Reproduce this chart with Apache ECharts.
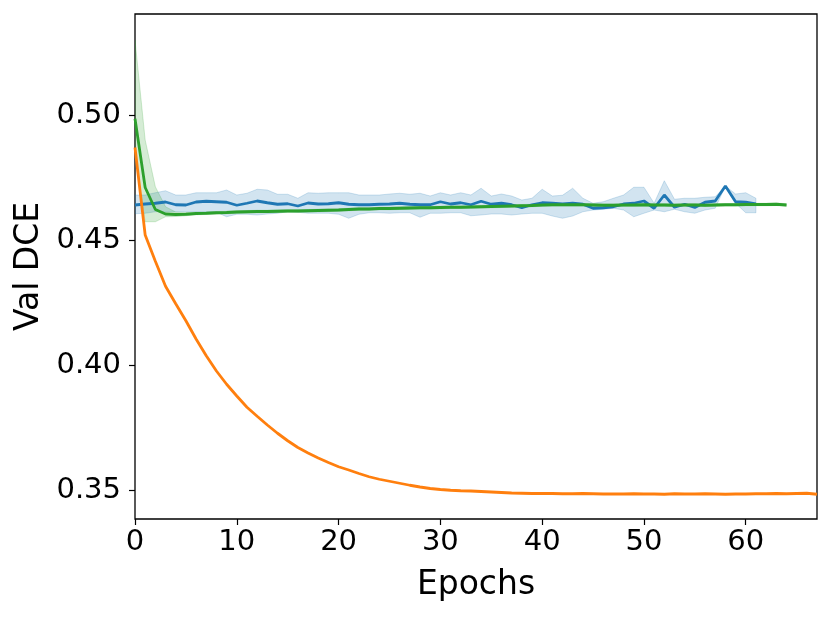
<!DOCTYPE html>
<html>
<head>
<meta charset="utf-8">
<script src="https://cdn.jsdelivr.net/npm/echarts@6/dist/echarts.min.js"></script>
<style>
html,body{margin:0;padding:0;background:#fff;}
#chart{width:830px;height:618px;}
</style>
</head>
<body>
<div id="chart"></div>
<script>
// ---- data ----
const yTicks = [0.35, 0.40, 0.45, 0.50];

const blueMean = [0.4640, 0.4644, 0.4647, 0.4652, 0.4641, 0.4640, 0.4652, 0.4655, 0.4653, 0.4651,
 0.4639, 0.4647, 0.4656, 0.4649, 0.4643, 0.4645, 0.4636, 0.4648, 0.4644, 0.4645,
 0.4649, 0.4643, 0.4641, 0.4641, 0.4643, 0.4644, 0.4647, 0.4643, 0.4641, 0.4641,
 0.4653, 0.4644, 0.4649, 0.4641, 0.4655, 0.4643, 0.4647, 0.4641, 0.4629, 0.4641,
 0.4649, 0.4647, 0.4644, 0.4647, 0.4643, 0.4627, 0.4629, 0.4633, 0.4644, 0.4647,
 0.4656, 0.4627, 0.4680, 0.4631, 0.4643, 0.4630, 0.4651, 0.4656, 0.4716, 0.4653,
 0.4651, 0.4644];
const blueUpper = [0.4680, 0.4680, 0.4689, 0.4697, 0.4680, 0.4680, 0.4689, 0.4689, 0.4689, 0.4700,
 0.4680, 0.4687, 0.4703, 0.4700, 0.4683, 0.4683, 0.4667, 0.4689, 0.4687, 0.4689,
 0.4689, 0.4689, 0.4680, 0.4680, 0.4680, 0.4684, 0.4687, 0.4683, 0.4687, 0.4676,
 0.4689, 0.4680, 0.4689, 0.4680, 0.4707, 0.4676, 0.4684, 0.4676, 0.4660, 0.4667,
 0.4703, 0.4676, 0.4679, 0.4707, 0.4667, 0.4647, 0.4653, 0.4667, 0.4680, 0.4711,
 0.4711, 0.4647, 0.4737, 0.4663, 0.4667, 0.4667, 0.4671, 0.4673, 0.4716, 0.4684,
 0.4689, 0.4667];
const blueLower = [0.4605, 0.4607, 0.4613, 0.4613, 0.4613, 0.4613, 0.4613, 0.4613, 0.4611, 0.4593,
 0.4603, 0.4603, 0.4600, 0.4604, 0.4607, 0.4613, 0.4611, 0.4607, 0.4607, 0.4607,
 0.4603, 0.4587, 0.4603, 0.4609, 0.4609, 0.4607, 0.4609, 0.4609, 0.4591, 0.4607,
 0.4607, 0.4609, 0.4609, 0.4597, 0.4600, 0.4604, 0.4604, 0.4600, 0.4604, 0.4607,
 0.4607, 0.4596, 0.4587, 0.4596, 0.4613, 0.4620, 0.4623, 0.4627, 0.4620, 0.4593,
 0.4607, 0.4620, 0.4613, 0.4623, 0.4613, 0.4607, 0.4620, 0.4627, 0.4716, 0.4647,
 0.4609, 0.4609];

const orangeMean = [0.4870, 0.4520, 0.4415, 0.4315, 0.4245, 0.4177, 0.4104, 0.4037, 0.3976, 0.3923,
 0.3876, 0.3831, 0.3795, 0.3760, 0.3727, 0.3697, 0.3670, 0.3648, 0.3628, 0.3610,
 0.3593, 0.3580, 0.3566, 0.3553, 0.3543, 0.3535, 0.3527, 0.3519, 0.3512, 0.3506,
 0.3502, 0.3499, 0.3497, 0.3496, 0.3494, 0.3492, 0.3490, 0.3488, 0.3487, 0.3486,
 0.3486, 0.3486, 0.3485, 0.3485, 0.3486, 0.3485, 0.3484, 0.3484, 0.3484, 0.3485,
 0.3484, 0.3484, 0.3483, 0.3485, 0.3484, 0.3484, 0.3485, 0.3484, 0.3483, 0.3484,
 0.3484, 0.3485, 0.3485, 0.3486, 0.3485, 0.3486, 0.3487, 0.3483];

const greenMean = [0.4985, 0.4710, 0.4622, 0.4604, 0.4602, 0.4603, 0.4606, 0.4607, 0.4609, 0.4610,
 0.4612, 0.4613, 0.4614, 0.4614, 0.4615, 0.4616, 0.4616, 0.4617, 0.4618, 0.4619,
 0.4620, 0.4622, 0.4624, 0.4624, 0.4626, 0.4626, 0.4627, 0.4628, 0.4629, 0.4629,
 0.4630, 0.4631, 0.4631, 0.4632, 0.4633, 0.4634, 0.4635, 0.4636, 0.4637, 0.4638,
 0.4640, 0.4641, 0.4641, 0.4641, 0.4641, 0.4640, 0.4639, 0.4639, 0.4640, 0.4640,
 0.4641, 0.4640, 0.4640, 0.4639, 0.4640, 0.4640, 0.4639, 0.4640, 0.4641, 0.4641,
 0.4642, 0.4642, 0.4642, 0.4643, 0.4640];
const greenUpper = [0.5300, 0.4900, 0.4713, 0.4633, 0.4612, 0.4610, 0.4611, 0.4612, 0.4614, 0.4615,
 0.4617, 0.4618, 0.4619, 0.4619, 0.4620, 0.4621, 0.4621, 0.4622, 0.4623, 0.4624,
 0.4625, 0.4627, 0.4629, 0.4629, 0.4631, 0.4631, 0.4632, 0.4633, 0.4634, 0.4634,
 0.4635, 0.4636, 0.4636, 0.4637, 0.4638, 0.4639, 0.4640, 0.4641, 0.4642, 0.4643,
 0.4645, 0.4646, 0.4646, 0.4646, 0.4646, 0.4645, 0.4644, 0.4644, 0.4645, 0.4645,
 0.4646, 0.4645, 0.4645, 0.4644, 0.4645, 0.4645, 0.4644, 0.4645, 0.4646, 0.4646,
 0.4647, 0.4647, 0.4647, 0.4648, 0.4645];
const greenLower = [0.4833, 0.4573, 0.4573, 0.4593, 0.4594, 0.4597, 0.4601, 0.4602, 0.4604, 0.4605,
 0.4607, 0.4608, 0.4609, 0.4609, 0.4610, 0.4611, 0.4611, 0.4612, 0.4613, 0.4614,
 0.4615, 0.4617, 0.4619, 0.4619, 0.4621, 0.4621, 0.4622, 0.4623, 0.4624, 0.4624,
 0.4625, 0.4626, 0.4626, 0.4627, 0.4628, 0.4629, 0.4630, 0.4631, 0.4632, 0.4633,
 0.4635, 0.4636, 0.4636, 0.4636, 0.4636, 0.4635, 0.4634, 0.4634, 0.4635, 0.4635,
 0.4636, 0.4635, 0.4635, 0.4634, 0.4635, 0.4635, 0.4634, 0.4635, 0.4636, 0.4636,
 0.4637, 0.4637, 0.4637, 0.4638, 0.4635];

// ---- build series ----
const FONT = 'DejaVu Sans';
const pairs = arr => arr.map((v, i) => [i, v]);

// confidence band: one polygon built through the axis scales (api.coord)
function band(name, up, lo, rgb) {
  const data = up.map((v, i) => [i, lo[i], v]);
  return {
    name: name, type: 'custom', data: data, silent: true, z: 1, clip: true,
    encode: { x: 0, y: [1, 2] },
    renderItem: function (params, api) {
      if (params.dataIndex !== 0) return null;
      const pts = [];
      for (let i = 0; i < data.length; i++) pts.push(api.coord([data[i][0], data[i][2]]));
      for (let i = data.length - 1; i >= 0; i--) pts.push(api.coord([data[i][0], data[i][1]]));
      return {
        type: 'polygon',
        shape: { points: pts },
        style: { fill: 'rgba(' + rgb + ',0.2)', stroke: 'rgba(' + rgb + ',0.2)', lineWidth: 1 },
        clipPath: { type: 'rect', shape: { x: params.coordSys.x, y: params.coordSys.y, width: params.coordSys.width, height: params.coordSys.height } }
      };
    }
  };
}
function line(name, arr, color, z) {
  return { name: name, type: 'line', data: pairs(arr), symbol: 'none', clip: true,
    lineStyle: { width: 2.8, color: color }, z: z };
}

const series = [
  band('blueBand', blueUpper, blueLower, '31,119,180'),
  line('blue', blueMean, '#1f77b4', 3),
  line('orange', orangeMean, '#ff7f0e', 3),
  band('greenBand', greenUpper, greenLower, '44,160,44'),
  line('green', greenMean, '#2ca02c', 4)
];

const chart = echarts.init(document.getElementById('chart'), null, { renderer: 'canvas' });
chart.setOption({
  animation: false,
  backgroundColor: '#fff',
  grid: { left: 135, right: 13, top: 14, bottom: 99, show: true, borderColor: '#000', borderWidth: 1.3, containLabel: false },
  xAxis: {
    type: 'value', min: 0, max: 67, interval: 10,
    name: 'Epochs', nameLocation: 'middle', nameGap: 50,
    nameTextStyle: { fontFamily: FONT, fontSize: 33, color: '#000' },
    axisLine: { show: false },
    axisTick: { show: true, inside: false, length: 6, lineStyle: { color: '#000', width: 1.2 } },
    axisLabel: { fontFamily: FONT, fontSize: 29, color: '#000', margin: 9, showMaxLabel: false },
    splitLine: { show: false }
  },
  yAxis: {
    type: 'value', min: 0.3384, max: 0.5404,
    name: 'Val DCE', nameLocation: 'middle', nameGap: 88,
    nameTextStyle: { fontFamily: FONT, fontSize: 33, color: '#000' },
    axisLine: { show: false },
    axisTick: { show: true, inside: false, length: 6, customValues: yTicks, lineStyle: { color: '#000', width: 1.2 } },
    axisLabel: { fontFamily: FONT, fontSize: 29, color: '#000', margin: 14, customValues: yTicks,
      formatter: v => v.toFixed(2) },
    splitLine: { show: false }
  },
  series: series
});
</script>
</body>
</html>
